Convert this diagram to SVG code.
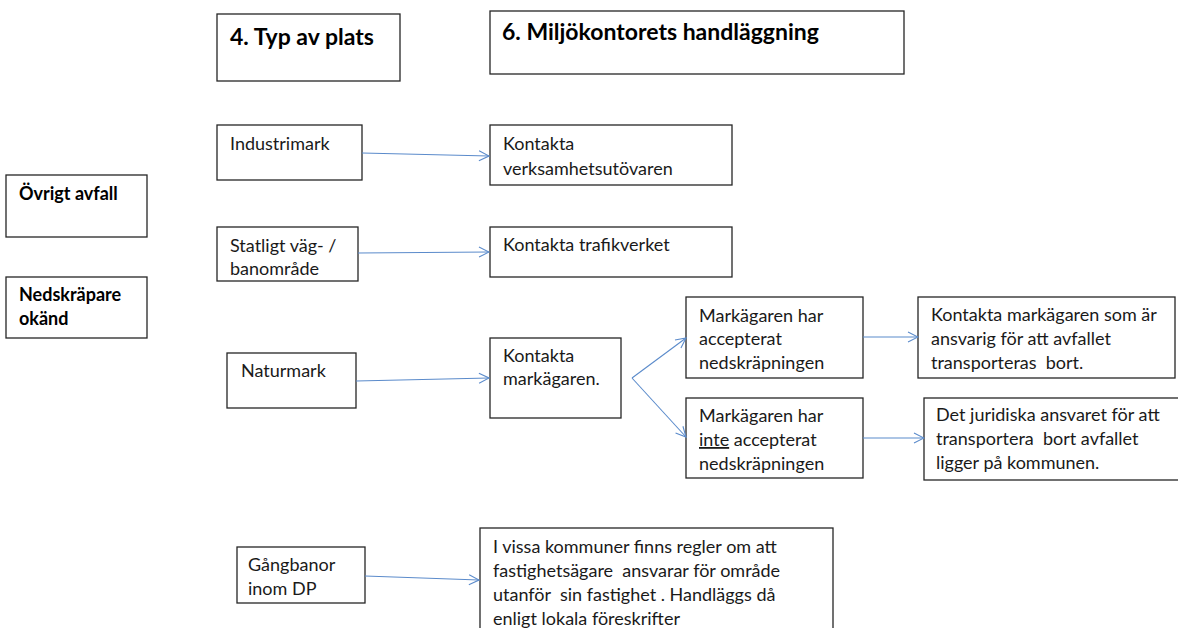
<svg xmlns="http://www.w3.org/2000/svg" width="1178" height="628" viewBox="0 0 1178 628">
<style>
.box{fill:#ffffff;stroke:#262626;stroke-width:1.3}
.t{font-family:Lato,"Open Sans",sans-serif;font-size:18px;fill:#1a1a1a}
.b{font-family:Lato,"Open Sans",sans-serif;font-weight:bold;font-size:18px;fill:#000000}
.h{font-family:Lato,"Open Sans",sans-serif;font-weight:bold;font-size:23px;fill:#000000}
.c{fill:none;stroke:#5b8bcb;stroke-width:1.1;marker-end:url(#arr)}
</style>
<defs>
<marker id="arr" markerUnits="userSpaceOnUse" markerWidth="12" markerHeight="12" refX="11" refY="6" orient="auto">
<path d="M1,1 L11,6 L1,11" fill="none" stroke="#5b8bcb" stroke-width="1.1"/>
</marker>
</defs>
<rect width="1178" height="628" fill="#ffffff"/>
<g id="typ-av-plats"><rect class="box" x="217" y="14" width="183" height="67"/><text class="h" x="230" y="45">4. Typ av plats</text></g>
<g id="miljokontoret"><rect class="box" x="490" y="11" width="414" height="63"/><text class="h" x="502" y="40">6. Miljökontorets handläggning</text></g>
<g id="ovrigt-avfall"><rect class="box" x="6" y="175" width="141" height="62"/><text class="b" x="19" y="200">Övrigt avfall</text></g>
<g id="nedskrapare"><rect class="box" x="6" y="277" width="141" height="61"/><text class="b" x="19" y="301">Nedskräpare</text><text class="b" x="19" y="325">okänd</text></g>
<g id="industrimark"><rect class="box" x="217" y="125" width="145" height="55"/><text class="t" x="230" y="150">Industrimark</text></g>
<g id="statligt"><rect class="box" x="217" y="227" width="141" height="54"/><text class="t" x="230" y="252">Statligt väg- /</text><text class="t" x="230" y="275">banområde</text></g>
<g id="naturmark"><rect class="box" x="227" y="353" width="129" height="55"/><text class="t" x="241" y="377">Naturmark</text></g>
<g id="gangbanor"><rect class="box" x="237" y="547" width="128" height="56"/><text class="t" x="248" y="571">Gångbanor</text><text class="t" x="248" y="595">inom DP</text></g>
<g id="verksamhetsutovaren"><rect class="box" x="490" y="125" width="242" height="60"/><text class="t" x="503" y="150">Kontakta</text><text class="t" x="503" y="175">verksamhetsutövaren</text></g>
<g id="trafikverket"><rect class="box" x="490" y="227" width="242" height="50"/><text class="t" x="503" y="251">Kontakta trafikverket</text></g>
<g id="markagaren"><rect class="box" x="490" y="338" width="131" height="80"/><text class="t" x="503" y="362">Kontakta</text><text class="t" x="503" y="385">markägaren.</text></g>
<g id="accepterat"><rect class="box" x="686" y="297" width="177" height="81"/><text class="t" x="699" y="322">Markägaren har</text><text class="t" x="699" y="345">accepterat</text><text class="t" x="699" y="369">nedskräpningen</text></g>
<g id="inte-accepterat"><rect class="box" x="686" y="398" width="177" height="80"/><text class="t" x="699" y="422">Markägaren har</text><text class="t" x="699" y="446"><tspan text-decoration="underline">inte</tspan> accepterat</text><text class="t" x="699" y="470">nedskräpningen</text></g>
<g id="ansvarig"><rect class="box" x="918" y="297" width="257" height="81"/><text class="t" x="931" y="321">Kontakta markägaren som är</text><text class="t" x="931" y="345">ansvarig för att avfallet</text><text class="t" x="931" y="369" xml:space="preserve">transporteras  bort.</text></g>
<g id="kommunen"><rect class="box" x="924" y="398" width="260" height="82"/><text class="t" x="936" y="421">Det juridiska ansvaret för att</text><text class="t" x="936" y="445" xml:space="preserve">transportera  bort avfallet</text><text class="t" x="936" y="469">ligger på kommunen.</text></g>
<g id="lokala"><rect class="box" x="480" y="528" width="353" height="110"/><text class="t" x="493" y="553">I vissa kommuner finns regler om att</text><text class="t" x="493" y="577" xml:space="preserve">fastighetsägare  ansvarar för område</text><text class="t" x="493" y="601" xml:space="preserve">utanför  sin fastighet . Handläggs då</text><text class="t" x="493" y="625">enligt lokala föreskrifter</text></g>
<g id="connectors">
<path class="c" d="M362,153 L489,156"/>
<path class="c" d="M358,253 L489,252"/>
<path class="c" d="M356,381 L489,378"/>
<path class="c" d="M632,378 L686,338"/>
<path class="c" d="M632,378 L686,437"/>
<path class="c" d="M863,337 L918,337"/>
<path class="c" d="M863,438 L924,438"/>
<path class="c" d="M365,576 L479,580"/>
</g>
</svg>
